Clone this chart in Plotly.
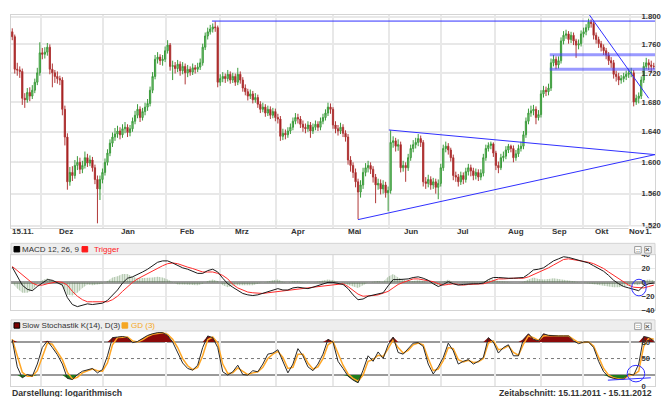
import math
import plotly.graph_objects as go

# ------------------------------------------------------------------ data
# daily candles, 15.11.2011 - 15.11.2012 (trading-day index 0..256)
first_open = 1.778
closes = [
    1.771, 1.725, 1.724, 1.722, 1.685, 1.683, 1.693, 1.688, 1.696, 1.707,
    1.720, 1.748, 1.746, 1.749, 1.756, 1.725, 1.720, 1.715, 1.712, 1.710,
    1.670, 1.633, 1.575, 1.587, 1.583, 1.596, 1.600, 1.591, 1.596, 1.606,
    1.599, 1.603, 1.593, 1.578, 1.566, 1.578, 1.587, 1.600, 1.612, 1.625,
    1.633, 1.637, 1.641, 1.636, 1.644, 1.646, 1.639, 1.644, 1.654, 1.662,
    1.670, 1.659, 1.667, 1.673, 1.678, 1.696, 1.715, 1.739, 1.742, 1.737,
    1.739, 1.751, 1.759, 1.729, 1.730, 1.726, 1.732, 1.723, 1.729, 1.720,
    1.725, 1.721, 1.727, 1.725, 1.728, 1.734, 1.756, 1.772, 1.778, 1.782,
    1.785, 1.784, 1.707, 1.712, 1.715, 1.712, 1.718, 1.710, 1.715, 1.707,
    1.718, 1.710, 1.699, 1.694, 1.688, 1.691, 1.683, 1.686, 1.677, 1.670,
    1.673, 1.665, 1.670, 1.662, 1.667, 1.659, 1.657, 1.634, 1.638, 1.636,
    1.641, 1.646, 1.654, 1.659, 1.657, 1.650, 1.646, 1.644, 1.649, 1.641,
    1.646, 1.650, 1.646, 1.654, 1.659, 1.665, 1.673, 1.670, 1.649, 1.644,
    1.641, 1.646, 1.638, 1.633, 1.603, 1.596, 1.587, 1.575, 1.562, 1.571,
    1.587, 1.593, 1.596, 1.591, 1.581, 1.571, 1.573, 1.566, 1.571, 1.561,
    1.564, 1.626, 1.628, 1.621, 1.623, 1.593, 1.596, 1.593, 1.606, 1.618,
    1.623, 1.626, 1.631, 1.626, 1.575, 1.573, 1.578, 1.571, 1.575, 1.568,
    1.573, 1.593, 1.618, 1.621, 1.616, 1.606, 1.583, 1.581, 1.575, 1.583,
    1.578, 1.588, 1.593, 1.589, 1.583, 1.587, 1.581, 1.586, 1.606, 1.618,
    1.622, 1.624, 1.612, 1.596, 1.593, 1.606, 1.608, 1.616, 1.621, 1.618,
    1.606, 1.611, 1.618, 1.621, 1.636, 1.654, 1.665, 1.668, 1.670, 1.659,
    1.663, 1.691, 1.696, 1.694, 1.699, 1.734, 1.739, 1.731, 1.737, 1.765,
    1.773, 1.775, 1.767, 1.773, 1.765, 1.759, 1.761, 1.775, 1.778, 1.784,
    1.792, 1.790, 1.773, 1.767, 1.761, 1.756, 1.751, 1.745, 1.737, 1.734,
    1.718, 1.715, 1.710, 1.712, 1.715, 1.718, 1.720, 1.720, 1.680, 1.685,
    1.688, 1.710, 1.729, 1.734, 1.731, 1.729, 1.729,
]
highs = [
    1.783, 1.774, 1.734, 1.729, 1.726, 1.692, 1.699, 1.700, 1.703, 1.712,
    1.727, 1.763, 1.755, 1.756, 1.762, 1.760, 1.733, 1.724, 1.722, 1.716,
    1.714, 1.675, 1.638, 1.594, 1.595, 1.603, 1.608, 1.606, 1.602, 1.614,
    1.611, 1.609, 1.607, 1.597, 1.583, 1.583, 1.592, 1.605, 1.617, 1.630,
    1.639, 1.645, 1.648, 1.646, 1.650, 1.653, 1.650, 1.649, 1.659, 1.668,
    1.677, 1.674, 1.672, 1.679, 1.684, 1.701, 1.721, 1.745, 1.749, 1.746,
    1.745, 1.757, 1.766, 1.762, 1.737, 1.735, 1.738, 1.736, 1.735, 1.733,
    1.731, 1.729, 1.733, 1.731, 1.734, 1.740, 1.761, 1.777, 1.784, 1.788,
    1.790, 1.793, 1.787, 1.718, 1.721, 1.719, 1.724, 1.722, 1.720, 1.719,
    1.727, 1.722, 1.714, 1.704, 1.698, 1.697, 1.695, 1.692, 1.690, 1.681,
    1.679, 1.677, 1.675, 1.674, 1.672, 1.671, 1.664, 1.661, 1.644, 1.643,
    1.646, 1.651, 1.659, 1.665, 1.664, 1.661, 1.655, 1.651, 1.654, 1.653,
    1.651, 1.655, 1.654, 1.659, 1.664, 1.670, 1.679, 1.678, 1.673, 1.654,
    1.649, 1.652, 1.650, 1.642, 1.637, 1.608, 1.600, 1.592, 1.579, 1.577,
    1.593, 1.599, 1.602, 1.600, 1.595, 1.585, 1.579, 1.578, 1.577, 1.575,
    1.569, 1.642, 1.634, 1.632, 1.630, 1.627, 1.602, 1.600, 1.611, 1.623,
    1.629, 1.632, 1.637, 1.635, 1.629, 1.581, 1.584, 1.582, 1.580, 1.579,
    1.578, 1.598, 1.623, 1.627, 1.625, 1.619, 1.610, 1.588, 1.585, 1.588,
    1.587, 1.593, 1.598, 1.597, 1.593, 1.592, 1.591, 1.591, 1.611, 1.623,
    1.626, 1.627, 1.626, 1.615, 1.601, 1.611, 1.614, 1.621, 1.624, 1.623,
    1.622, 1.616, 1.623, 1.627, 1.641, 1.659, 1.671, 1.675, 1.676, 1.674,
    1.669, 1.696, 1.702, 1.701, 1.705, 1.740, 1.745, 1.743, 1.743, 1.770,
    1.779, 1.781, 1.779, 1.778, 1.777, 1.768, 1.767, 1.780, 1.784, 1.789,
    1.797, 1.796, 1.793, 1.777, 1.771, 1.765, 1.760, 1.755, 1.749, 1.742,
    1.738, 1.723, 1.720, 1.717, 1.720, 1.723, 1.726, 1.727, 1.724, 1.690,
    1.693, 1.715, 1.735, 1.741, 1.739, 1.737, 1.734,
]
lows = [
    1.766, 1.719, 1.716, 1.713, 1.676, 1.672, 1.679, 1.681, 1.684, 1.692,
    1.703, 1.716, 1.739, 1.740, 1.744, 1.718, 1.700, 1.706, 1.705, 1.703,
    1.662, 1.622, 1.565, 1.570, 1.576, 1.579, 1.590, 1.585, 1.586, 1.592,
    1.594, 1.595, 1.588, 1.572, 1.523, 1.552, 1.573, 1.583, 1.596, 1.608,
    1.620, 1.628, 1.632, 1.630, 1.632, 1.638, 1.633, 1.634, 1.640, 1.650,
    1.658, 1.653, 1.655, 1.662, 1.668, 1.674, 1.692, 1.711, 1.733, 1.731,
    1.730, 1.735, 1.747, 1.723, 1.710, 1.719, 1.721, 1.716, 1.718, 1.704,
    1.714, 1.716, 1.717, 1.719, 1.721, 1.724, 1.730, 1.752, 1.767, 1.774,
    1.777, 1.778, 1.700, 1.702, 1.707, 1.706, 1.708, 1.705, 1.706, 1.702,
    1.703, 1.705, 1.694, 1.689, 1.682, 1.684, 1.678, 1.679, 1.672, 1.665,
    1.666, 1.660, 1.661, 1.657, 1.658, 1.654, 1.651, 1.628, 1.629, 1.630,
    1.632, 1.637, 1.642, 1.650, 1.651, 1.645, 1.640, 1.638, 1.640, 1.632,
    1.637, 1.642, 1.641, 1.642, 1.650, 1.655, 1.661, 1.664, 1.644, 1.638,
    1.635, 1.637, 1.633, 1.627, 1.597, 1.588, 1.580, 1.568, 1.528, 1.555,
    1.566, 1.582, 1.587, 1.585, 1.574, 1.548, 1.565, 1.559, 1.560, 1.555,
    1.538, 1.560, 1.619, 1.614, 1.615, 1.587, 1.588, 1.575, 1.589, 1.602,
    1.613, 1.618, 1.621, 1.620, 1.569, 1.566, 1.568, 1.565, 1.566, 1.560,
    1.553, 1.569, 1.589, 1.613, 1.610, 1.601, 1.577, 1.575, 1.569, 1.571,
    1.572, 1.574, 1.583, 1.582, 1.577, 1.578, 1.576, 1.577, 1.582, 1.602,
    1.614, 1.617, 1.607, 1.590, 1.586, 1.590, 1.601, 1.604, 1.612, 1.613,
    1.600, 1.602, 1.607, 1.614, 1.617, 1.632, 1.650, 1.660, 1.662, 1.650,
    1.655, 1.659, 1.686, 1.688, 1.689, 1.695, 1.729, 1.725, 1.726, 1.733,
    1.760, 1.768, 1.761, 1.762, 1.759, 1.741, 1.753, 1.757, 1.770, 1.773,
    1.780, 1.784, 1.767, 1.761, 1.755, 1.750, 1.745, 1.739, 1.731, 1.727,
    1.712, 1.708, 1.703, 1.705, 1.707, 1.710, 1.713, 1.714, 1.674, 1.676,
    1.678, 1.684, 1.706, 1.725, 1.724, 1.720, 1.725,
]

# indicators, read every 2nd trading day
macd = [
    22, 8, -4, -10, -12, -6, -1, 4, 3, 0,
    -4, -22, -32, -35, -33, -31, -32, -31, -30, -26,
    -18, -11, -1, 6, 8, 11, 15, 19, 24, 29,
    31, 31, 28, 24, 21, 19, 16, 13, 13, 17,
    19, 15, 6, -2, -7, -12, -16, -18, -19, -18,
    -16, -14, -11, -9, -11, -11, -8, -7, -8, -9,
    -7, -5, -2, 0, 0, -1, -3, -9, -18, -25,
    -24, -20, -18, -16, -15, -5, 4, 4, 4, 5,
    7, 8, 6, 3, -2, -6, -3, 1, -2, -4,
    -3, -2, -2, -2, -1, 4, 7, 7, 6, 6,
    6, 6, 7, 12, 18, 19, 21, 26, 31, 34,
    37, 36, 34, 32, 30, 28, 24, 20, 16, 10,
    3, -2, -6, -8, -10, -12, -5, -2, -1,
]
trigger = [
    23, 17, 11, 5, -1, -4, -4, -2, 0, 1,
    0, -4, -13, -20, -25, -28, -28, -28, -28, -28,
    -25, -20, -13, -6, 0, 5, 9, 13, 17, 21,
    24, 27, 28, 27, 24, 22, 20, 17, 15, 15,
    15, 13, 10, 5, -3, -8, -11, -14, -15, -16,
    -16, -15, -14, -13, -12, -11, -10, -9, -8, -8,
    -7, -6, -5, -4, -3, -2, -2, -6, -12, -17,
    -20, -20, -19, -18, -16, -13, -8, -3, 0, 3,
    5, 5, 4, 3, 1, -2, -4, -3, -2, -3,
    -4, -3, -3, -2, -2, 0, 3, 5, 5, 6,
    6, 6, 6, 8, 11, 14, 17, 21, 25, 29,
    33, 34, 33, 32, 31, 29, 27, 24, 20, 15,
    10, 5, 0, -4, -7, -8, -8, -6, -4,
]
hist = [
    -1, -9, -15, -15, -11, -2, 3, 6, 3, -1,
    -4, -18, -19, -15, -8, -3, -4, -3, -2, 2,
    7, 9, 12, 12, 8, 6, 6, 6, 7, 8,
    7, 4, 0, -3, -3, -3, -4, -4, -2, 2,
    4, 2, -4, -7, -4, -4, -5, -4, -4, -2,
    0, 1, 3, 4, 1, 0, 2, 2, 0, -1,
    0, 1, 3, 4, 3, 1, -1, -3, -6, -8,
    -4, 0, 1, 2, 1, 8, 12, 7, 4, 2,
    2, 3, 2, 0, -3, -4, 1, 4, 0, -1,
    1, 1, 1, 0, 1, 4, 4, 2, 1, 0,
    0, 0, 1, 4, 7, 5, 4, 5, 6, 5,
    4, 2, 1, 0, -1, -1, -3, -4, -4, -5,
    -7, -7, -6, -4, -3, -4, 3, 4, 3,
]
stoch_k = [
    84, 35, 15, 21, 18, 40, 70, 82, 70, 57,
    40, 14, 12, 21, 27, 30, 32, 24, 30, 55,
    88, 89, 90, 88, 79, 81, 87, 92, 95, 97,
    97, 92, 80, 62, 42, 32, 29, 38, 70, 91,
    88, 70, 26, 20, 26, 38, 21, 20, 28, 26,
    40, 58, 60, 66, 45, 24, 40, 68, 55, 35,
    28, 40, 58, 85, 80, 45, 32, 18, 11, 6,
    29, 55, 45, 62, 50, 75, 89, 61, 58, 68,
    78, 79, 72, 40, 22, 35, 52, 78, 64, 40,
    45, 48, 40, 45, 52, 88, 80, 60, 70, 75,
    55, 55, 85, 95, 85, 82, 95, 92, 91, 91,
    91, 91, 82, 77, 80, 80, 70, 45, 26, 17,
    14, 12, 13, 22, 20, 40, 90, 88, 82,
]
stoch_d = [
    85, 55, 25, 18, 18, 28, 55, 78, 76, 63,
    48, 25, 13, 16, 24, 28, 31, 28, 27, 42,
    75, 88, 89, 89, 82, 80, 84, 90, 94, 96,
    97, 94, 85, 70, 50, 37, 30, 34, 55, 84,
    89, 78, 40, 23, 24, 33, 27, 21, 24, 26,
    34, 50, 58, 63, 52, 32, 34, 58, 58, 42,
    31, 35, 50, 75, 81, 58, 38, 22, 14, 9,
    20, 45, 48, 56, 54, 68, 84, 70, 60, 65,
    75, 78, 75, 50, 28, 31, 46, 70, 68, 48,
    44, 47, 43, 44, 50, 78, 82, 66, 68, 73,
    61, 56, 76, 91, 88, 83, 91, 92, 91, 91,
    91, 91, 85, 79, 79, 80, 73, 52, 32, 20,
    15, 13, 13, 19, 21, 27, 72, 87, 85,
]

price_ticks = [1.52, 1.56, 1.60, 1.64, 1.68, 1.72, 1.76, 1.80]
price_tick_text = ["1.520", "1.560", "1.600", "1.640", "1.680", "1.720", "1.760", "1.800"]
macd_ticks = [-40, -20, 0, 20, 40]
stoch_ticks = [0, 50, 80]
stoch_levels = [20, 50, 80]

grid_x = [11.3, 36.2, 61.2, 82.9, 105.4, 128.0, 150.5, 171.1, 192.8, 211.2, 227.8, 246.5]
month_labels = ["Dez", "Jan", "Feb", "Mrz", "Apr", "Mai", "Jun", "Jul", "Aug", "Sep", "Okt"]
month_label_x = [21.4, 46.2, 69.7, 91.7, 114.0, 136.6, 159.1, 179.9, 201.0, 218.2, 235.3]
last_month_label = "Nov"
last_month_x = 249.3
start_label = "15.11."
end_label = "15.11."

# drawn trend lines (trading-day index, price)
tl_top_x, tl_top_y = [79.7, 256.5], [1.7935, 1.7935]
tl_box_x = [214.5, 256.5]
tl_box_hi, tl_box_lo = 1.7454, 1.7249
tl_down_x, tl_down_y = [229.5, 254.0], [1.8067, 1.685]
tri_up_x, tri_up_y = [150.3, 256.5], [1.6424, 1.610]
tri_lo_x, tri_lo_y = [138.0, 256.5], [1.5276, 1.610]
macd_mark = (250.1, -7.5, 2.9, 12.0)     # centre x, centre y, radius x, radius y
stoch_mark = (248.9, 22.7, 3.5, 15.0)
stoch_line_x, stoch_line_y = [237.7, 254.8], [10.8, 15.1]

assert len(closes) == len(highs) == len(lows) == 257
for arr in (macd, trigger, hist, stoch_k, stoch_d):
    assert len(arr) == 129

opens = [first_open] + closes[:-1]
idx = list(range(len(closes)))
ind_x = list(range(0, len(closes), 2))

# ------------------------------------------------------------------ layout helpers
W, H = 670, 397
FONT = "Liberation Sans, Arial, sans-serif"
TXT = "#333333"
GRID = "#e8e8e8"
BORDER = "#d4d4d4"
BLUE = "#3030ff"
X0, X1 = 3 / W, 647 / W


def py(p):
    return 1 - p / H


fig = go.Figure()

fig.add_trace(go.Candlestick(
    x=idx, open=opens, high=highs, low=lows, close=closes,
    increasing=dict(line=dict(color="#3b9b3b", width=1), fillcolor="#8fd08f"),
    decreasing=dict(line=dict(color="#b03838", width=1), fillcolor="#990000"),
    whiskerwidth=0, xaxis="x", yaxis="y", hoverinfo="skip", showlegend=False,
))

# trend lines on price chart
fig.add_trace(go.Scatter(x=tl_top_x, y=tl_top_y, mode="lines",
                         line=dict(color=BLUE, width=1), xaxis="x", yaxis="y"))
for lvl in (tl_box_hi, tl_box_lo):
    fig.add_trace(go.Scatter(x=tl_box_x, y=[lvl, lvl], mode="lines",
                             line=dict(color="rgba(70,70,255,0.55)", width=3), xaxis="x", yaxis="y"))
fig.add_trace(go.Scatter(x=tl_down_x, y=tl_down_y, mode="lines",
                         line=dict(color=BLUE, width=1), xaxis="x", yaxis="y"))
fig.add_trace(go.Scatter(x=tri_up_x, y=tri_up_y, mode="lines",
                         line=dict(color=BLUE, width=1), xaxis="x", yaxis="y"))
fig.add_trace(go.Scatter(x=tri_lo_x, y=tri_lo_y, mode="lines",
                         line=dict(color=BLUE, width=1), xaxis="x", yaxis="y"))

# MACD panel
fig.add_trace(go.Scatter(
    x=ind_x, y=hist, mode="lines", line=dict(width=0), fill="tozeroy",
    fillcolor="rgba(0,0,0,0)",
    fillpattern=dict(shape="|", size=2.5, solidity=0.55, fgcolor="#4d7d44", bgcolor="rgba(0,0,0,0)"),
    xaxis="x2", yaxis="y2"))
fig.add_trace(go.Scatter(x=ind_x, y=trigger, mode="lines",
                         line=dict(color="#ff2a2a", width=1), xaxis="x2", yaxis="y2"))
fig.add_trace(go.Scatter(x=ind_x, y=macd, mode="lines",
                         line=dict(color="#1a1a1a", width=1), xaxis="x2", yaxis="y2"))

# Stochastic panel fills
fig.add_trace(go.Scatter(x=ind_x, y=[stoch_levels[2]] * len(ind_x), mode="lines",
                         line=dict(width=0), xaxis="x3", yaxis="y3"))
fig.add_trace(go.Scatter(x=ind_x, y=[max(v, stoch_levels[2]) for v in stoch_k], mode="lines",
                         line=dict(width=0), fill="tonexty", fillcolor="#8b0a0a",
                         xaxis="x3", yaxis="y3"))
fig.add_trace(go.Scatter(x=ind_x, y=[stoch_levels[0]] * len(ind_x), mode="lines",
                         line=dict(width=0), xaxis="x3", yaxis="y3"))
fig.add_trace(go.Scatter(x=ind_x, y=[min(v, stoch_levels[0]) for v in stoch_k], mode="lines",
                         line=dict(width=0), fill="tonexty", fillcolor="#1e7d1e",
                         xaxis="x3", yaxis="y3"))
fig.add_trace(go.Scatter(x=ind_x, y=stoch_d, mode="lines",
                         line=dict(color="#ffa726", width=1.5), xaxis="x3", yaxis="y3"))
fig.add_trace(go.Scatter(x=ind_x, y=stoch_k, mode="lines",
                         line=dict(color="#2a2a2a", width=1), xaxis="x3", yaxis="y3"))
fig.add_trace(go.Scatter(x=stoch_line_x, y=stoch_line_y, mode="lines",
                         line=dict(color=BLUE, width=1), xaxis="x3", yaxis="y3"))

xcommon = dict(range=[-0.5, len(closes) - 0.5], domain=[X0, X1], tickvals=grid_x,
               showticklabels=False, showgrid=True, gridcolor=GRID, gridwidth=2,
               zeroline=False, showline=True, mirror=True, linecolor=BORDER, linewidth=1,
               ticks="", fixedrange=True)
tickfont = dict(family=FONT, size=7.7, color=TXT, weight="bold")
STANDOFF = -16

ytop = math.log10(1.8) + 1.7 / 2915
ybot = math.log10(1.8) - 215.8 / 2915

fig.update_layout(
    width=W, height=H, autosize=False,
    margin=dict(l=0, r=0, t=0, b=0),
    paper_bgcolor="white", plot_bgcolor="white",
    showlegend=False, hovermode=False,
    xaxis=dict(**xcommon, anchor="y", rangeslider=dict(visible=False)),
    xaxis2=dict(**xcommon, anchor="y2"),
    xaxis3=dict(**xcommon, anchor="y3"),
    yaxis=dict(type="log", domain=[py(220.5), py(3)], range=[ybot, ytop], side="right",
               tickvals=price_ticks, ticktext=price_tick_text, tickfont=tickfont,
               ticklabelstandoff=STANDOFF,
               showgrid=True, gridcolor=GRID, gridwidth=2, zeroline=False,
               showline=True, mirror=True, linecolor=BORDER, ticks="", anchor="x",
               fixedrange=True),
    yaxis2=dict(domain=[py(305), py(248.3)], range=[-40, 40], side="right",
                tickvals=macd_ticks, tickfont=tickfont, ticklabelstandoff=STANDOFF,
                showgrid=True, gridcolor=GRID,
                gridwidth=1, zeroline=True, zerolinecolor="#9c9c9c", zerolinewidth=3,
                showline=True, mirror=True, linecolor=BORDER, ticks="", anchor="x2",
                fixedrange=True),
    yaxis3=dict(domain=[py(382.8), py(326.4)], range=[0, 100], side="right",
                tickvals=stoch_ticks, tickfont=tickfont, ticklabelstandoff=STANDOFF,
                showgrid=False, zeroline=False,
                showline=True, mirror=True, linecolor=BORDER, ticks="", anchor="x3",
                fixedrange=True),
)

shapes = []
# stochastic reference levels
for lvl, dash, col, w in ((stoch_levels[2], "solid", "#9a9a9a", 2),
                          (stoch_levels[1], "dot", "#777777", 1),
                          (stoch_levels[0], "solid", "#9a9a9a", 2)):
    shapes.append(dict(type="line", xref="paper", yref="y3", x0=X0, x1=X1, y0=lvl, y1=lvl,
                       line=dict(color=col, width=w, dash=dash), layer="below"))
# marks
cx, cy, rx, ry = macd_mark
shapes.append(dict(type="circle", xref="x2", yref="y2", x0=cx - rx, x1=cx + rx,
                   y0=cy - ry, y1=cy + ry, line=dict(color=BLUE, width=1)))
cx, cy, rx, ry = stoch_mark
shapes.append(dict(type="circle", xref="x3", yref="y3", x0=cx - rx, x1=cx + rx,
                   y0=cy - ry, y1=cy + ry, line=dict(color=BLUE, width=1)))
# panel header bands
for top, bot in ((236.7, 248.3), (315.0, 326.4)):
    shapes.append(dict(type="rect", xref="paper", yref="paper", x0=X0, x1=X1,
                       y0=py(bot), y1=py(top), fillcolor="#eeeeee",
                       line=dict(color=BORDER, width=1)))
    for bx in (626.7, 636.7):
        shapes.append(dict(type="rect", xref="paper", yref="paper", x0=bx / W, x1=(bx + 6.5) / W,
                           y0=py(top + 10), y1=py(top + 3.3), fillcolor="white",
                           line=dict(color="#9a9a9a", width=1)))
# legend squares
for x0, top, col, lc in ((6, 240.0, "#000000", "#000000"), (74, 240.0, "#ff1a1a", "#ff1a1a"),
                         (6, 318.0, "#7a0000", "#000000"), (114, 318.0, "#f5a623", "#f5a623")):
    shapes.append(dict(type="rect", xref="paper", yref="paper", x0=x0 / W, x1=(x0 + 5.7) / W,
                       y0=py(top + 5.5), y1=py(top), fillcolor=col, line=dict(color=lc, width=1)))
fig.update_layout(shapes=shapes)

ann = []


def txt(x, y, s, anchor="left", size=8, color=TXT, bold=False, xref="paper", bg=None):
    d = dict(x=x, y=y, xref=xref, yref="paper", text=s, showarrow=False,
             xanchor=anchor, yanchor="middle", borderpad=0,
             font=dict(family=FONT, size=size, color=color, weight="bold" if bold else "normal"))
    if bg:
        d.update(bgcolor=bg)
    ann.append(d)


label_y = py(224.5)
txt(-0.5, label_y, start_label, anchor="left", bold=True, xref="x")
for lab, xv in zip(month_labels, month_label_x):
    txt(xv, label_y, lab, anchor="center", bold=True, xref="x")
txt(644.5 / W, label_y, end_label, anchor="right", bold=True)
txt(last_month_x, label_y, last_month_label, anchor="center", bold=True, xref="x", bg="white")

txt(13.3 / W, py(242.7), "MACD 12, 26, 9")
txt(85 / W, py(242.7), "Trigger", color="#ff1a1a")
txt(13.3 / W, py(320.7), "Slow Stochastik K(14), D(3)")
txt(121.7 / W, py(320.7), "GD (3)", color="#f5a623")
for top in (236.7, 315.0):
    txt(629.95 / W, py(top + 6.6), "::", anchor="center", size=6, color="#555555", bold=True)
    txt(639.95 / W, py(top + 6.6), "×", anchor="center", size=8, color="#555555", bold=True)

txt(3 / W, py(390), "Darstellung: logarithmisch", size=8.7, bold=True)
txt(645 / W, py(390), "Zeitabschnitt: 15.11.2011 - 15.11.2012", anchor="right", size=8.7, bold=True)
fig.update_layout(annotations=ann)

fig.write_html("out.html")
